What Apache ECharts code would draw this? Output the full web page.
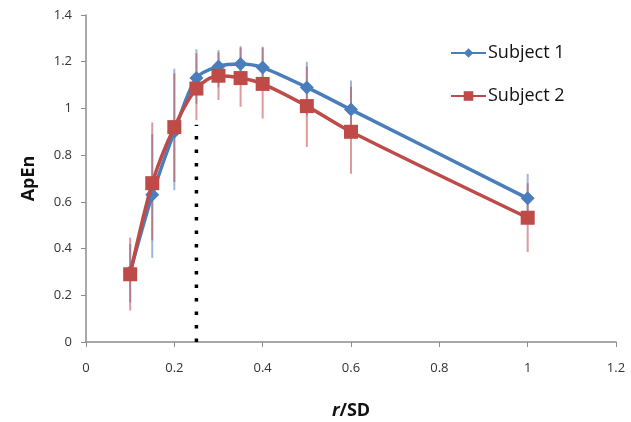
<!DOCTYPE html>
<html>
<head>
<meta charset="utf-8">
<script src="https://cdn.jsdelivr.net/npm/echarts@6/dist/echarts.min.js"></script>
<style>
  html, body { margin: 0; padding: 0; background: #fff; }
  #chart { width: 631px; height: 422px; }
</style>
</head>
<body>
<div id="chart"></div>
<script>
// r/SD values
var rValues = [0.1, 0.15, 0.2, 0.25, 0.3, 0.35, 0.4, 0.5, 0.6, 1.0];
// Subject 1 ApEn and error range
var s1Mean = [0.30, 0.63, 0.90, 1.13, 1.18, 1.19, 1.175, 1.09, 0.995, 0.615];
var s1Low  = [0.17, 0.36, 0.65, 1.02, 1.09, 1.10, 1.08, 0.97, 0.88, 0.51];
var s1High = [0.42, 0.89, 1.17, 1.253, 1.25, 1.267, 1.264, 1.20, 1.12, 0.72];
// Subject 2 ApEn and error range
var s2Mean = [0.29, 0.68, 0.92, 1.085, 1.14, 1.13, 1.105, 1.01, 0.9, 0.532];
var s2Low  = [0.135, 0.435, 0.685, 0.95, 1.036, 1.007, 0.957, 0.835, 0.72, 0.385];
var s2High = [0.447, 0.94, 1.15, 1.236, 1.24, 1.26, 1.26, 1.18, 1.093, 0.68];
// dotted marker line at r/SD = 0.25
var cutLine = [[0.25, 0], [0.25, 0.93]];

var blue = '#4a7ebb';
var red = '#be4b48';

function pairs(xs, ys) {
    return xs.map(function (x, i) { return [x, ys[i]]; });
}
function errData(low, high) {
    return rValues.map(function (x, i) { return [x, low[i], high[i]]; });
}
function errRender(color) {
    return function (params, api) {
        var p1 = api.coord([api.value(0), api.value(1)]);
        var p2 = api.coord([api.value(0), api.value(2)]);
        return {
            type: 'line',
            shape: { x1: p1[0], y1: p1[1], x2: p2[0], y2: p2[1] },
            style: { stroke: color, lineWidth: 2, opacity: 0.55 }
        };
    };
}

var myChart = echarts.init(document.getElementById('chart'));

option = {
    animation: false,
    grid: { left: 86, right: 15, top: 15, bottom: 80, outerBoundsMode: 'none' },
    legend: {
        data: ['Subject 1', 'Subject 2'],
        orient: 'vertical',
        left: 445,
        top: 39,
        itemWidth: 35,
        itemHeight: 12,
        itemGap: 25,
        textStyle: { fontSize: 18, color: '#111', fontFamily: 'Open Sans', padding: [0, 0, 0, -3] }
    },
    xAxis: {
        type: 'value',
        min: 0, max: 1.2, interval: 0.2,
        name: '{i|r}/SD',
        nameLocation: 'middle',
        nameGap: 60,
        nameTextStyle: {
            fontSize: 18, fontWeight: 'bold', color: '#111', fontFamily: 'Open Sans',
            rich: { i: { fontSize: 18, fontWeight: 'bold', fontStyle: 'italic', color: '#111', fontFamily: 'Open Sans' } }
        },
        splitLine: { show: false },
        axisLine: { lineStyle: { color: '#8c8c8c', width: 1.5 } },
        axisTick: { show: true, length: 5, lineStyle: { color: '#8c8c8c' } },
        axisLabel: { fontSize: 13, color: '#333', margin: 20, fontFamily: 'Open Sans' }
    },
    yAxis: {
        type: 'value',
        min: 0, max: 1.4, interval: 0.2,
        name: 'ApEn',
        nameLocation: 'middle',
        nameGap: 48,
        nameTextStyle: { fontSize: 18, fontWeight: 'bold', color: '#111', fontFamily: 'Open Sans' },
        splitLine: { show: false },
        axisLine: { show: true, lineStyle: { color: '#8c8c8c', width: 1.5 } },
        axisTick: { show: true, length: 5, lineStyle: { color: '#8c8c8c' } },
        axisLabel: { fontSize: 13, color: '#333', margin: 14, fontFamily: 'Open Sans' }
    },
    series: [
        {
            name: 's1err',
            type: 'custom',
            renderItem: errRender(blue),
            data: errData(s1Low, s1High),
            z: 1, silent: true
        },
        {
            name: 's2err',
            type: 'custom',
            renderItem: errRender(red),
            data: errData(s2Low, s2High),
            z: 1, silent: true
        },
        {
            name: 'cut',
            type: 'line',
            data: cutLine,
            symbol: 'none',
            lineStyle: { color: '#000', width: 3.5, type: [3.5, 10] },
            z: 2, silent: true
        },
        {
            name: 'Subject 1',
            type: 'line',
            data: pairs(rValues, s1Mean),
            smooth: 0.3,
            symbol: 'diamond',
            symbolSize: 14,
            itemStyle: { color: blue },
            lineStyle: { color: blue, width: 3.5 },
            z: 3
        },
        {
            name: 'Subject 2',
            type: 'line',
            data: pairs(rValues, s2Mean),
            smooth: 0.3,
            symbol: 'rect',
            symbolSize: 14,
            itemStyle: { color: red },
            lineStyle: { color: red, width: 3.5 },
            z: 4
        }
    ]
};

myChart.setOption(option);
</script>
</body>
</html>
